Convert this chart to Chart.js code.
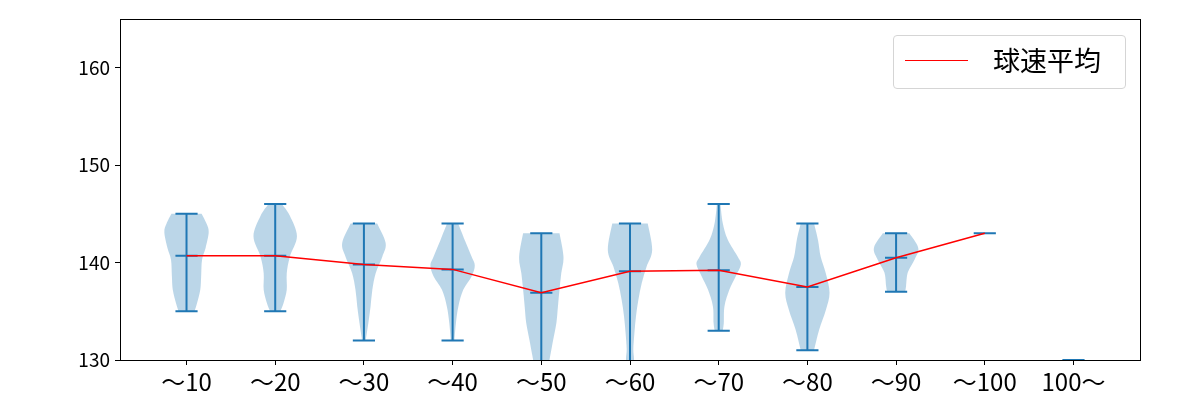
<!DOCTYPE html>
<html>
<head>
<meta charset="utf-8">
<script src="https://cdn.jsdelivr.net/npm/chart.js@4.4.1/dist/chart.umd.min.js"></script>
<style>
    body { margin: 0; background: #fff; }
    #wrap { position: relative; width: 1200px; height: 400px; }
    #legend {
        position: absolute; left: 893px; top: 35px; width: 231px; height: 52px;
        border: 1px solid #d5d5d5; border-radius: 4px; background: rgba(255,255,255,0.8);
        font-family: "Noto Sans CJK JP", sans-serif; font-size: 27px; color: #000;
    }
    #legend .swatch { position: absolute; left: 11px; top: 24px; width: 63px; height: 0; border-top: 1.5px solid #ff0000; }
    #legend .label { position: absolute; left: 99px; top: 6px; line-height: 36px; }
</style>
</head>
<body>
<div id="wrap">
    <canvas id="chart" width="1200" height="400"></canvas>
    <div id="legend"><div class="swatch"></div><div class="label">球速平均</div></div>
</div>
<script>
const categories = ["〜10", "〜20", "〜30", "〜40", "〜50", "〜60", "〜70", "〜80", "〜90", "〜100", "100〜"];
const meanValues = [140.7, 140.7, 139.8, 139.3, 136.9, 139.1, 139.2, 137.5, 140.5, 143.0, null];
const minValues = [135, 135, 132, 132, 126, 127, 133, 131, 137, 143, 120];
const maxValues = [145, 146, 144, 144, 143, 144, 146, 144, 143, 143, 130];
const yTicks = [130, 140, 150, 160];

// violin outlines: speed levels (top to bottom) and relative half-widths
const violinLevels = [
    [145, 144, 143.1, 141.5, 140.3, 138.6, 137.2, 135.8, 135],
    [146, 144.8, 142.7, 140.6, 138.9, 137.2, 135.8, 135],
    [144, 142, 140.6, 138.9, 137.2, 135.5, 133.8, 132],
    [144, 142.3, 140.6, 139.7, 138.6, 137.2, 135.5, 133.8, 132],
    [143, 140.6, 138.9, 137.2, 135.5, 133.8, 132, 130.4, 128, 126],
    [144, 141.3, 139.6, 137.9, 136.2, 134.5, 132.8, 131.1, 130, 128.5, 127],
    [146, 144.1, 142.4, 140.6, 139.8, 138.6, 137.2, 135.5, 133.8, 133],
    [144, 142.3, 140.6, 138.9, 136.9, 135.1, 133.1, 131],
    [143, 141.5, 140.3, 139, 137.6, 137],
    [],
    [130, 125, 120]
];
const violinWidths = [
    [0.68, 0.9, 1.0, 0.86, 0.7, 0.66, 0.62, 0.47, 0.36],
    [0.3, 0.66, 0.98, 0.66, 0.52, 0.52, 0.37, 0.23],
    [0.6, 0.98, 0.83, 0.53, 0.38, 0.3, 0.2, 0.08],
    [0.25, 0.55, 0.86, 1.0, 0.86, 0.48, 0.26, 0.15, 0.08],
    [0.82, 1.0, 0.9, 0.82, 0.75, 0.68, 0.53, 0.4, 0.2, 0.08],
    [0.8, 1.0, 0.75, 0.53, 0.38, 0.27, 0.2, 0.15, 0.18, 0.1, 0.05],
    [0.08, 0.18, 0.4, 0.86, 1.0, 0.77, 0.48, 0.26, 0.23, 0.18],
    [0.3, 0.48, 0.6, 0.83, 1.0, 0.83, 0.53, 0.3],
    [0.6, 1.0, 0.83, 0.53, 0.45, 0.41],
    [],
    [0.5, 0.7, 0.4]
];

const BLUE = "#1f77b4";
const HALF_WIDTH = 0.25;
const CAP_HALF = 0.125;

// smooth curve through points (catmull-rom -> bezier)
function curveThrough(ctx, pts) {
    for (let i = 0; i < pts.length - 1; i++) {
        const p0 = pts[i - 1] || pts[i];
        const p1 = pts[i];
        const p2 = pts[i + 1];
        const p3 = pts[i + 2] || p2;
        ctx.bezierCurveTo(
            p1.x + (p2.x - p0.x) / 6, p1.y + (p2.y - p0.y) / 6,
            p2.x - (p3.x - p1.x) / 6, p2.y - (p3.y - p1.y) / 6,
            p2.x, p2.y
        );
    }
}

const violinPlugin = {
    id: "violins",
    beforeDatasetsDraw(chart) {
        const { ctx, chartArea, scales } = chart;
        const xs = scales.x, ys = scales.y;
        ctx.save();
        ctx.beginPath();
        ctx.rect(chartArea.left, chartArea.top, chartArea.right - chartArea.left, chartArea.bottom - chartArea.top);
        ctx.clip();
        categories.forEach((c, i) => {
            const pos = i + 1;
            const levels = violinLevels[i];
            const widths = violinWidths[i];
            if (levels.length > 1) {
                const right = levels.map((v, k) => ({ x: xs.getPixelForValue(pos + HALF_WIDTH * widths[k]), y: ys.getPixelForValue(v) }));
                const left = levels.map((v, k) => ({ x: xs.getPixelForValue(pos - HALF_WIDTH * widths[k]), y: ys.getPixelForValue(v) })).reverse();
                ctx.beginPath();
                ctx.moveTo(right[0].x, right[0].y);
                curveThrough(ctx, right);
                ctx.lineTo(left[0].x, left[0].y);
                curveThrough(ctx, left);
                ctx.closePath();
                ctx.fillStyle = "rgba(31,119,180,0.3)";
                ctx.fill();
            }
            // whisker line and caps
            ctx.strokeStyle = BLUE;
            ctx.lineWidth = 2;
            const xc = xs.getPixelForValue(pos);
            ctx.beginPath();
            ctx.moveTo(xc, ys.getPixelForValue(minValues[i]));
            ctx.lineTo(xc, ys.getPixelForValue(maxValues[i]));
            const caps = [minValues[i], maxValues[i]];
            if (meanValues[i] !== null) caps.push(meanValues[i]);
            caps.forEach(v => {
                const y = ys.getPixelForValue(v);
                ctx.moveTo(xs.getPixelForValue(pos - CAP_HALF), y);
                ctx.lineTo(xs.getPixelForValue(pos + CAP_HALF), y);
            });
            ctx.stroke();
        });
        ctx.restore();
    },
    afterDraw(chart) {
        const { ctx, chartArea } = chart;
        ctx.save();
        ctx.strokeStyle = "#000";
        ctx.lineWidth = 1;
        ctx.strokeRect(Math.round(chartArea.left) + 0.5, Math.round(chartArea.top) + 0.5,
            Math.round(chartArea.right - chartArea.left), Math.round(chartArea.bottom - chartArea.top));
        ctx.restore();
    }
};

const font = "'Noto Sans CJK JP', sans-serif";

new Chart(document.getElementById("chart"), {
    type: "line",
    data: {
        datasets: [{
            label: "球速平均",
            data: meanValues.map((v, i) => ({ x: i + 1, y: v })),
            borderColor: "#ff0000",
            borderWidth: 1.5,
            pointRadius: 0,
            tension: 0,
            spanGaps: false
        }]
    },
    options: {
        responsive: false,
        animation: false,
        devicePixelRatio: 1,
        layout: { padding: { top: 19, right: 60, left: 0, bottom: 0 } },
        plugins: { legend: { display: false }, tooltip: { enabled: false } },
        scales: {
            x: {
                type: "linear",
                min: 0.25,
                max: 11.75,
                afterBuildTicks: s => { s.ticks = categories.map((c, i) => ({ value: i + 1 })); },
                afterFit: s => { s.height = 40; },
                ticks: {
                    autoSkip: false,
                    maxRotation: 0,
                    padding: 2,
                    color: "#000",
                    font: { family: font, size: 24 },
                    callback: v => categories[v - 1]
                },
                grid: { drawOnChartArea: false, drawTicks: true, tickLength: 5, color: "#000" },
                border: { display: true, color: "#000" }
            },
            y: {
                min: 130,
                max: 165,
                afterBuildTicks: s => { s.ticks = yTicks.map(v => ({ value: v })); },
                afterFit: s => { s.width = 120; },
                ticks: {
                    padding: 5,
                    color: "#000",
                    font: { family: font, size: 19 }
                },
                grid: { drawOnChartArea: false, drawTicks: true, tickLength: 5, color: "#000" },
                border: { display: true, color: "#000" }
            }
        }
    },
    plugins: [violinPlugin]
});
</script>
</body>
</html>
